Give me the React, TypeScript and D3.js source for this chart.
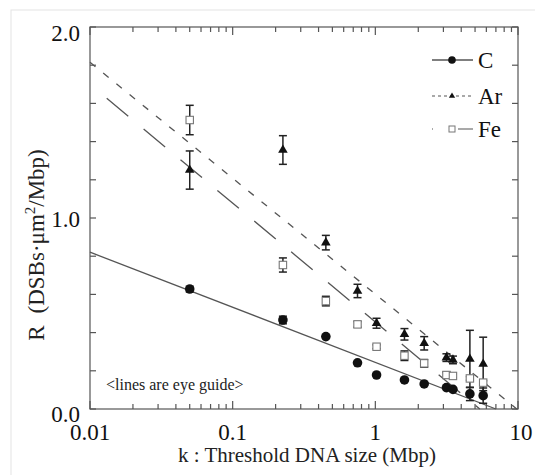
import React from "react";
import * as d3 from "d3";

// threshold DNA size k (Mbp), shared by the three ions
const kValues = [0.05, 0.225, 0.45, 0.75, 1.02, 1.6, 2.2, 3.15, 3.5, 4.6, 5.7];

const cValues = [0.628, 0.466, 0.379, 0.242, 0.178, 0.152, 0.131, 0.112, 0.103, 0.079, 0.07];
const cErrors = [0.015, 0.02, 0, 0, 0, 0, 0, 0, 0, 0.035, 0.04];

const arValues = [1.251, 1.356, 0.871, 0.618, 0.449, 0.391, 0.344, 0.269, 0.257, 0.262, 0.236];
const arErrors = [0.1, 0.075, 0.038, 0.035, 0.026, 0.03, 0.035, 0.02, 0.02, 0.15, 0.14];

const feValues = [1.513, 0.754, 0.565, 0.443, 0.326, 0.279, 0.239, 0.178, 0.173, 0.16, 0.138];
const feErrors = [0.077, 0.037, 0.025, 0.015, 0.01, 0.025, 0.02, 0.015, 0.01, 0.01, 0.01];

// eye-guide lines: [k, R] end points
const cGuide = [[0.01, 0.821], [7.0, 0]];
const arGuide = [[0.01, 1.815], [9.8, 0]];
const feGuide = [[0.0131, 1.627], [5.4, 0]];

const xTickLabels = [0.01, 0.1, 1, 10];
const yTickLabels = [0, 1, 2];

const width = 535;
const height = 475;
const margin = { top: 27, right: 17, bottom: 66, left: 90 };
const font = '"Liberation Serif", "DejaVu Serif", serif';

export default function App() {
  const x = d3.scaleLog().domain([0.01, 10]).range([margin.left, width - margin.right]);
  const y = d3.scaleLinear().domain([0, 2]).range([height - margin.bottom, margin.top]);
  const x0 = margin.left;
  const x1 = width - margin.right;
  const y0 = height - margin.bottom;
  const y1 = margin.top;

  const line = d3
    .line<number[]>()
    .x((d) => x(d[0]))
    .y((d) => y(d[1]));

  const minorX = x.ticks();
  const minorY = y.ticks(10);

  const tri = d3.symbol(d3.symbolTriangle, 40)()!;
  const triSmall = d3.symbol(d3.symbolTriangle, 17)()!;

  const errorBars = (vals: number[], errs: number[], key: string) =>
    kValues.map((k, i) =>
      errs[i] > 0 ? (
        <g key={key + i} stroke="#222" strokeWidth={1.5}>
          <line x1={x(k)} x2={x(k)} y1={y(vals[i] + errs[i])} y2={y(vals[i] - errs[i])} />
          <line x1={x(k) - 4} x2={x(k) + 4} y1={y(vals[i] + errs[i])} y2={y(vals[i] + errs[i])} />
          <line x1={x(k) - 4} x2={x(k) + 4} y1={y(vals[i] - errs[i])} y2={y(vals[i] - errs[i])} />
        </g>
      ) : null
    );

  return (
    <svg
      width={width}
      height={height}
      style={{ position: "absolute", left: 0, top: 0, background: "#fff", fontFamily: font }}
    >
      <rect x={11} y={10} width={width} height={height} fill="none" stroke="#e4e4e4" />

      {/* guide lines */}
      <g fill="none" stroke="#555" strokeWidth={1.3}>
        <path d={line(cGuide)!} />
        <path d={line(arGuide)!} strokeDasharray="7,10" />
        <path d={line(feGuide)!} strokeDasharray="28,20" />
      </g>

      {/* frame + ticks */}
      <g stroke="#555" strokeWidth={1.2}>
        <rect x={x0} y={y1} width={x1 - x0} height={y0 - y1} fill="none" />
        {minorX.map((t) => {
          const major = xTickLabels.includes(+t.toPrecision(3));
          const len = major ? 8 : 5;
          return (
            <g key={"xt" + t}>
              <line x1={x(t)} x2={x(t)} y1={y0} y2={y0 - len} />
              <line x1={x(t)} x2={x(t)} y1={y1} y2={y1 + len} />
            </g>
          );
        })}
        {minorY.map((t) => (
          <g key={"yt" + t}>
            <line x1={x0} x2={x0 + 6} y1={y(t)} y2={y(t)} />
            <line x1={x1} x2={x1 - 6} y1={y(t)} y2={y(t)} />
          </g>
        ))}
      </g>

      {/* tick labels */}
      <g fontSize={23} fill="#111">
        {xTickLabels.map((t) => (
          <text key={"xl" + t} x={x(t) + (t === 10 ? 3 : 0)} y={440} textAnchor="middle">
            {String(t)}
          </text>
        ))}
        {yTickLabels.map((t) => (
          <text key={"yl" + t} x={80} y={y(t) + (t === 1 ? 9 : t === 2 ? 14 : 13)} textAnchor="end">
            {t.toFixed(1)}
          </text>
        ))}
      </g>

      {/* error bars */}
      {errorBars(arValues, arErrors, "ae")}
      {errorBars(feValues, feErrors, "fe")}
      {errorBars(cValues, cErrors, "ce")}

      {/* markers */}
      {kValues.map((k, i) => (
        <path key={"ar" + i} d={tri} transform={`translate(${x(k)},${y(arValues[i])})`} fill="#111" />
      ))}
      {kValues.map((k, i) => (
        <rect
          key={"fe" + i}
          x={x(k) - 3.7}
          y={y(feValues[i]) - 3.7}
          width={7.4}
          height={7.4}
          fill="#fff"
          stroke="#777"
          strokeWidth={1.1}
        />
      ))}
      {kValues.map((k, i) => (
        <circle key={"c" + i} cx={x(k)} cy={y(cValues[i])} r={4.8} fill="#111" />
      ))}

      {/* legend */}
      <g fontSize={23} fill="#111">
        <line x1={432} x2={473} y1={60} y2={60} stroke="#555" strokeWidth={1.3} />
        <circle cx={452} cy={60} r={3.8} fill="#111" />
        <text x={478} y={68}>C</text>

        <line x1={432} x2={473} y1={96} y2={96} stroke="#555" strokeWidth={1.1} strokeDasharray="3,3" />
        <path d={triSmall} transform="translate(452,96)" fill="#111" />
        <text x={478} y={104}>Ar</text>

        <line x1={432} x2={473} y1={129} y2={129} stroke="#555" strokeWidth={1.1} strokeDasharray="1,25,40" />
        <rect x={449} y={126} width={6} height={6} fill="#fff" stroke="#777" />
        <text x={478} y={137}>Fe</text>
      </g>

      <text x={106} y={390} fontSize={16} fill="#222">
        {"<lines are eye guide>"}
      </text>

      {/* axis titles */}
      <text x={307} y={462} fontSize={21} textAnchor="middle" fill="#222">
        k : Threshold DNA size (Mbp)
      </text>
      <text transform="translate(44,245) rotate(-90)" fontSize={23} textAnchor="middle" fill="#222">
        R<tspan dx={12}>(DSBs·μm</tspan>
        <tspan fontSize={15} dy={-9}>2</tspan>
        <tspan dy={9}>/Mbp)</tspan>
      </text>
    </svg>
  );
}
